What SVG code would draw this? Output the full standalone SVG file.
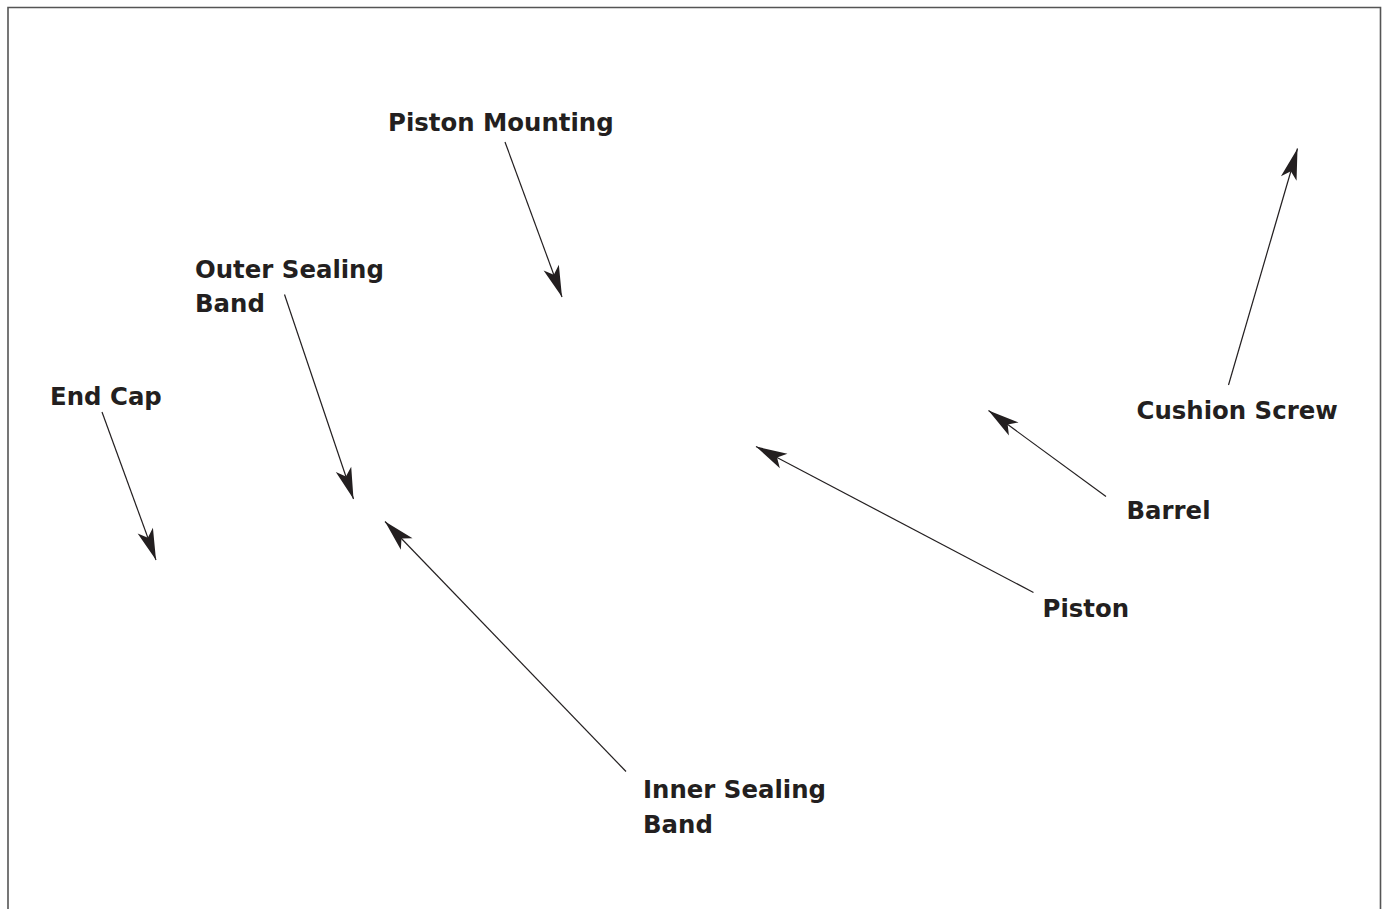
<svg xmlns="http://www.w3.org/2000/svg" width="1384" height="909" viewBox="0 0 1384 909">
<style>
.lbl{font-family:"DejaVu Sans","Liberation Sans",sans-serif;font-weight:bold;font-size:24.4px;fill:#231f20}
.ln{stroke:#231f20;stroke-width:1.2;fill:none;marker-end:url(#ah)}
</style>
<defs>
<marker id="ah" markerUnits="userSpaceOnUse" markerWidth="40" markerHeight="40" viewBox="-30 -10 32 20" refX="0" refY="0" orient="auto">
<path d="M0,0 L-25,-6.5 L-19,0 L-25,6.5 Z" fill="#231f20"/>
</marker>
</defs>
<rect width="1384" height="909" fill="#fff"/>
<path d="M8,915 V7.5 H1380.5 V915" fill="none" stroke="#555" stroke-width="1.6"/>
<g id="connectors">
<line class="ln" x1="505" y1="142" x2="562" y2="297"/>
<line class="ln" x1="102" y1="412" x2="156" y2="560"/>
<line class="ln" x1="284.5" y1="294.5" x2="353.5" y2="499"/>
<line class="ln" x1="626" y1="771.5" x2="385" y2="521.5"/>
<line class="ln" x1="1033.5" y1="592.5" x2="756" y2="446.5"/>
<line class="ln" x1="1106" y1="496.5" x2="988.5" y2="410.5"/>
<line class="ln" x1="1228.5" y1="385" x2="1297.5" y2="148.5"/>
</g>
<g id="piston-mounting"><text class="lbl" x="388" y="131">Piston Mounting</text></g>
<g id="outer-sealing-band"><text class="lbl" x="195" y="278">Outer Sealing</text><text class="lbl" x="195" y="312">Band</text></g>
<g id="end-cap"><text class="lbl" x="50" y="405">End Cap</text></g>
<g id="inner-sealing-band"><text class="lbl" x="643" y="798">Inner Sealing</text><text class="lbl" x="643" y="833">Band</text></g>
<g id="piston"><text class="lbl" x="1042.5" y="616.5">Piston</text></g>
<g id="barrel"><text class="lbl" x="1126.5" y="519">Barrel</text></g>
<g id="cushion-screw"><text class="lbl" x="1136.5" y="419">Cushion Screw</text></g>
</svg>
